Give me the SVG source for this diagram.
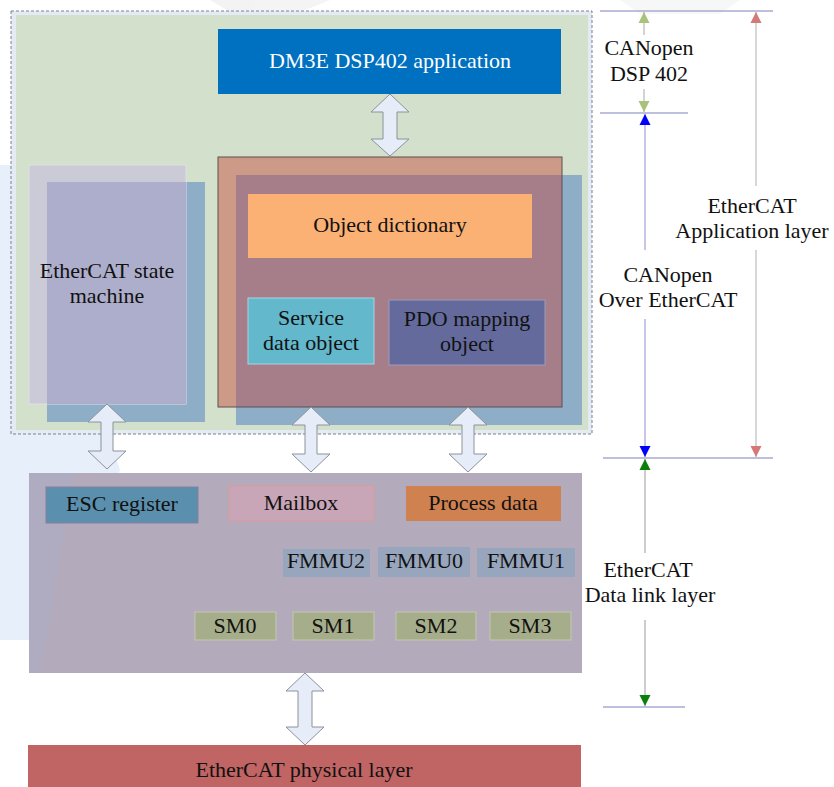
<svg xmlns="http://www.w3.org/2000/svg" width="834" height="787" viewBox="0 0 834 787">
<style>
text{font-family:"Liberation Serif","Times New Roman",serif;font-size:22px;fill:#111;text-anchor:middle}
.w{fill:#fff}
.dbl{fill:#e6edf8;stroke:#8c929c;stroke-width:1}
.hl{stroke:#a9a9d2;stroke-width:1.5;fill:none}
.sm{fill:#a6ad8a;stroke:#c4c8b0;stroke-width:1}
.fm{fill:#97a6bc}
</style>
<defs>
<marker id="mLg" viewBox="0 0 10 10" refX="10" refY="5" markerUnits="userSpaceOnUse" markerWidth="11" markerHeight="12" orient="auto"><path d="M0,0L10,5L0,10z" fill="#a9c27a"/></marker>
<marker id="mBl" viewBox="0 0 10 10" refX="10" refY="5" markerUnits="userSpaceOnUse" markerWidth="11" markerHeight="12" orient="auto"><path d="M0,0L10,5L0,10z" fill="#0000ff"/></marker>
<marker id="mPk" viewBox="0 0 10 10" refX="10" refY="5" markerUnits="userSpaceOnUse" markerWidth="11" markerHeight="12" orient="auto"><path d="M0,0L10,5L0,10z" fill="#d47878"/></marker>
<marker id="mDg" viewBox="0 0 10 10" refX="10" refY="5" markerUnits="userSpaceOnUse" markerWidth="11" markerHeight="12" orient="auto"><path d="M0,0L10,5L0,10z" fill="#0a800a"/></marker>
</defs>
<rect width="834" height="787" fill="#fff"/>
<!-- faint watermark -->
<g id="watermark" opacity="0.45">
<path d="M0,165 L26,165 L120,470 L60,640 L0,640 Z" fill="#c8dcf4"/>
<path d="M210,0 L330,0 L300,12 L230,12 Z" fill="#e6e6e6"/>
<path d="M620,0 L740,0 L720,14 L640,14 Z" fill="#eeeeee"/>
</g>
<!-- application layer panel -->
<g id="app-panel">
<rect x="11" y="11" width="581" height="423" fill="#e4ebf2" stroke="#7d7f96" stroke-width="1" stroke-dasharray="3,2"/>
<rect x="16" y="15" width="572" height="415" fill="#d3e1cc"/>
</g>
<g id="dsp402-app">
<rect x="218" y="29" width="343" height="65" fill="#0070c0"/>
<text class="w" x="390" y="68">DM3E DSP402 application</text>
</g>
<g id="state-machine">
<rect x="47" y="182" width="158" height="240" fill="#8eaec7"/>
<rect x="29" y="165" width="157" height="239" fill="#cbcad7" stroke="#dfe0e8" stroke-width="1"/>
<rect x="47" y="182" width="139" height="222" fill="#adaecb"/>
<text x="107" y="278">EtherCAT state</text>
<text x="107" y="303">machine</text>
</g>
<g id="coe">
<rect x="236" y="175" width="346" height="250" fill="#8eaec7"/>
<rect x="218" y="157" width="344" height="250" fill="#cd9a88"/>
<rect x="236" y="175" width="326" height="232" fill="#a67e8a"/>
<rect x="218" y="157" width="344" height="250" fill="none" stroke="#5a5050" stroke-width="1"/>
</g>
<g id="object-dictionary">
<rect x="248" y="194" width="284" height="64" fill="#fbb074"/>
<text x="390" y="232">Object dictionary</text>
</g>
<g id="sdo">
<rect x="248" y="298" width="126" height="66" fill="#63b8cc" stroke="#a8d4e0" stroke-width="1"/>
<text x="311" y="325">Service</text>
<text x="311" y="350">data object</text>
</g>
<g id="pdo-mapping">
<rect x="389" y="300" width="156" height="65" fill="#646b9c" stroke="#9a9cc0" stroke-width="1"/>
<text x="467" y="326">PDO mapping</text>
<text x="467" y="351">object</text>
</g>
<!-- data link layer -->
<g id="data-link">
<rect x="29" y="473" width="553" height="200" fill="#b3aabb"/>
<path d="M29,473 L75,473 L40,673 L29,673 Z" fill="#a8b0cc" opacity="0.35"/>
</g>
<g id="esc-register">
<rect x="46" y="487" width="152" height="36" fill="#5b8fae" stroke="#8a7f9e" stroke-width="1"/>
<text x="122" y="511">ESC register</text>
</g>
<g id="mailbox">
<rect x="229" y="486" width="145" height="35" fill="#c8a6b7" stroke="#dd9a9a" stroke-width="1"/>
<text x="301" y="510">Mailbox</text>
</g>
<g id="process-data">
<rect x="406" y="486" width="155" height="35" fill="#cf8150"/>
<text x="483" y="510">Process data</text>
</g>
<g id="fmmu2"><rect class="fm" x="283" y="549" width="87" height="28"/><text x="326" y="568" font-size="17">FMMU2</text></g>
<g id="fmmu0"><rect class="fm" x="378" y="547" width="92" height="30"/><text x="424" y="568" font-size="17">FMMU0</text></g>
<g id="fmmu1"><rect class="fm" x="477" y="548" width="98" height="29"/><text x="526" y="568" font-size="17">FMMU1</text></g>
<g id="sm0"><rect class="sm" x="195" y="612" width="81" height="28"/><text x="235" y="633">SM0</text></g>
<g id="sm1"><rect class="sm" x="293" y="612" width="81" height="28"/><text x="333" y="633">SM1</text></g>
<g id="sm2"><rect class="sm" x="396" y="612" width="80" height="28"/><text x="436" y="633">SM2</text></g>
<g id="sm3"><rect class="sm" x="490" y="612" width="81" height="28"/><text x="530" y="633">SM3</text></g>
<g id="physical">
<rect x="28" y="745" width="553" height="50" fill="#c06464"/>
<text x="304" y="777">EtherCAT physical layer</text>
</g>
<!-- connectors -->
<g id="connectors">
<polygon class="dbl" points="390,94 409,112 397,112 397,139 409,139 390,156 371,139 383,139 383,112 371,112"/>
<polygon class="dbl" points="107,404 126,422 113,422 113,451 126,451 107,469 88,451 101,451 101,422 88,422"/>
<polygon class="dbl" points="311,407 330,425 317,425 317,454 330,454 311,472 292,454 305,454 305,425 292,425"/>
<polygon class="dbl" points="468,407 487,425 474,425 474,454 487,454 468,472 449,454 462,454 462,425 449,425"/>
<polygon class="dbl" points="305,673 324,691 312,691 312,727 324,727 305,745 286,727 298,727 298,691 286,691"/>
</g>
<!-- dimension annotations -->
<g id="dimensions">
<line class="hl" x1="600" y1="11" x2="773" y2="11"/>
<line class="hl" x1="600" y1="113" x2="688" y2="113"/>
<line class="hl" x1="603" y1="458" x2="773" y2="458"/>
<line class="hl" x1="603" y1="707" x2="685" y2="707"/>
<line x1="644" y1="35" x2="644" y2="12" stroke="#a8a8a8" stroke-width="1" marker-end="url(#mLg)"/>
<line x1="644" y1="89" x2="644" y2="112" stroke="#a8a8a8" stroke-width="1" marker-end="url(#mLg)"/>
<line x1="645" y1="250" x2="645" y2="114" stroke="#8c8cd0" stroke-width="1" marker-end="url(#mBl)"/>
<line x1="645" y1="319" x2="645" y2="457" stroke="#8c8cd0" stroke-width="1" marker-end="url(#mBl)"/>
<line x1="756" y1="186" x2="756" y2="12" stroke="#cacaca" stroke-width="1.5" marker-end="url(#mPk)"/>
<line x1="756" y1="250" x2="756" y2="457" stroke="#cacaca" stroke-width="1.5" marker-end="url(#mPk)"/>
<line x1="645" y1="553" x2="645" y2="459" stroke="#9a9a9a" stroke-width="1" marker-end="url(#mDg)"/>
<line x1="645" y1="620" x2="645" y2="706" stroke="#9a9a9a" stroke-width="1" marker-end="url(#mDg)"/>
<text x="649" y="55">CANopen</text>
<text x="649" y="81">DSP 402</text>
<text x="752" y="213">EtherCAT</text>
<text x="752" y="238">Application layer</text>
<text x="668" y="282">CANopen</text>
<text x="668" y="307">Over EtherCAT</text>
<text x="648" y="577">EtherCAT</text>
<text x="650" y="602">Data link layer</text>
</g>
</svg>
